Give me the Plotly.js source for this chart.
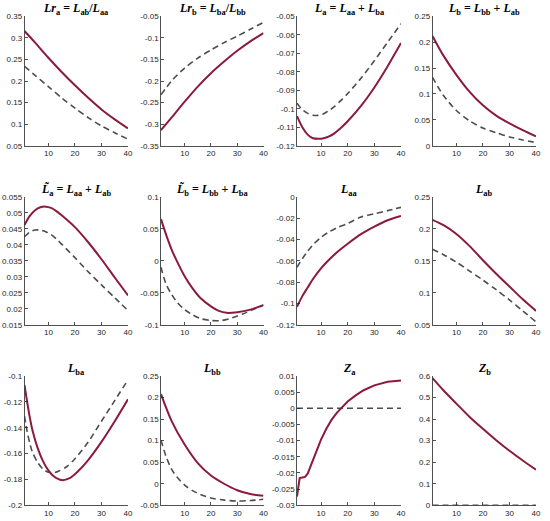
<!DOCTYPE html>
<html>
<head>
<meta charset="utf-8">
<script src="https://cdn.plot.ly/plotly-3.0.1.min.js"></script>
<style>html,body{margin:0;padding:0;background:#fff;}#chart{width:550px;height:521px;}</style>
</head>
<body>
<div id="chart"></div>
<script>
// ---- titles ----
const titles = [
  "<i>Lr</i><sub>a</sub> = <i>L</i><sub>ab</sub>/<i>L</i><sub>aa</sub>",
  "<i>Lr</i><sub>b</sub> = <i>L</i><sub>ba</sub>/<i>L</i><sub>bb</sub>",
  "<i>L</i><sub>a</sub> = <i>L</i><sub>aa</sub> + <i>L</i><sub>ba</sub>",
  "<i>L</i><sub>b</sub> = <i>L</i><sub>bb</sub> + <i>L</i><sub>ab</sub>",
  "<i>L\u0303</i><sub>a</sub> = <i>L</i><sub>aa</sub> + <i>L</i><sub>ab</sub>",
  "<i>L\u0303</i><sub>b</sub> = <i>L</i><sub>bb</sub> + <i>L</i><sub>ba</sub>",
  "<i>L</i><sub>aa</sub>",
  "<i>L</i><sub>ab</sub>",
  "<i>L</i><sub>ba</sub>",
  "<i>L</i><sub>bb</sub>",
  "<i>Z</i><sub>a</sub>",
  "<i>Z</i><sub>b</sub>"
];

// ---- x tick labels ----
const xTicks = [10, 20, 30, 40];

// ---- panel 1: Lra ----
const x1 = [1, 5, 10, 15, 20, 25, 30, 35, 40];
const red1 = [0.316, 0.289, 0.254, 0.221, 0.190, 0.161, 0.134, 0.111, 0.090];
const dash1 = [0.234, 0.213, 0.187, 0.161, 0.137, 0.115, 0.096, 0.080, 0.065];
const yt1 = [0.05, 0.1, 0.15, 0.2, 0.25, 0.3, 0.35];

// ---- panel 2: Lrb ----
const x2 = [1, 5, 10, 15, 20, 25, 30, 35, 40];
const red2 = [-0.314, -0.285, -0.248, -0.213, -0.182, -0.155, -0.130, -0.108, -0.089];
const dash2 = [-0.232, -0.200, -0.170, -0.147, -0.128, -0.111, -0.096, -0.080, -0.064];
const yt2 = [-0.35, -0.3, -0.25, -0.2, -0.15, -0.1, -0.05];

// ---- panel 3: La ----
const x3 = [1, 3, 5, 7, 9, 11, 13, 15, 17, 20, 25, 30, 35, 40];
const red3 = [-0.104, -0.110, -0.114, -0.116, -0.1163, -0.1160, -0.1150, -0.1133, -0.1110, -0.1068, -0.0985, -0.0885, -0.0770, -0.0645];
const dash3 = [-0.097, -0.1005, -0.1025, -0.1035, -0.1036, -0.1027, -0.1010, -0.0988, -0.0962, -0.0918, -0.0835, -0.0740, -0.0640, -0.054];
const yt3 = [-0.12, -0.11, -0.1, -0.09, -0.08, -0.07, -0.06, -0.05];

// ---- panel 4: Lb ----
const x4 = [1, 5, 10, 15, 20, 25, 30, 35, 40];
const red4 = [0.212, 0.175, 0.137, 0.104, 0.078, 0.058, 0.043, 0.030, 0.018];
const dash4 = [0.132, 0.098, 0.068, 0.048, 0.034, 0.025, 0.017, 0.011, 0.006];
const yt4 = [0, 0.05, 0.1, 0.15, 0.2, 0.25];

// ---- panel 5: L~a ----
const x5 = [1, 3, 5, 7, 9, 11, 13, 15, 20, 25, 30, 35, 40];
const red5 = [0.0462, 0.0490, 0.0508, 0.0517, 0.0519, 0.0515, 0.0505, 0.0492, 0.0455, 0.0408, 0.0355, 0.0298, 0.0242];
const dash5 = [0.0425, 0.0440, 0.0446, 0.0446, 0.0441, 0.0432, 0.0418, 0.0402, 0.0360, 0.0316, 0.0275, 0.0235, 0.0195];
const yt5 = [0.015, 0.02, 0.025, 0.03, 0.035, 0.04, 0.045, 0.05, 0.055];

// ---- panel 6: L~b ----
const x6 = [1, 3, 5, 7, 10, 13, 16, 20, 23, 26, 30, 35, 40];
const red6 = [0.065, 0.040, 0.018, 0.000, -0.024, -0.043, -0.058, -0.071, -0.078, -0.081, -0.080, -0.076, -0.069];
const x6d = [1, 2, 3, 5, 7, 10, 13, 16, 20, 24, 28, 32, 36, 40];
const dash6 = [-0.010, -0.025, -0.037, -0.052, -0.064, -0.076, -0.084, -0.090, -0.093, -0.093, -0.089, -0.083, -0.076, -0.069];
const yt6 = [-0.1, -0.05, 0, 0.05, 0.1];

// ---- panel 7: Laa ----
const x7 = [1, 3, 5, 7, 10, 13, 16, 20, 25, 30, 35, 40];
const red7 = [-0.103, -0.093, -0.085, -0.077, -0.067, -0.059, -0.052, -0.044, -0.035, -0.028, -0.022, -0.018];
const dash7 = [-0.066, -0.058, -0.051, -0.045, -0.038, -0.033, -0.029, -0.025, -0.019, -0.016, -0.013, -0.010];
const yt7 = [-0.12, -0.1, -0.08, -0.06, -0.04, -0.02, 0];

// ---- panel 8: Lab ----
const x8 = [1, 5, 10, 15, 20, 25, 30, 35, 40];
const red8 = [0.214, 0.206, 0.192, 0.173, 0.151, 0.130, 0.110, 0.090, 0.072];
const dash8 = [0.168, 0.160, 0.148, 0.134, 0.120, 0.105, 0.089, 0.072, 0.055];
const yt8 = [0.05, 0.1, 0.15, 0.2, 0.25];

// ---- panel 9: Lba ----
const x9 = [1, 2, 3, 4, 6, 8, 10, 12, 15, 18, 21, 25, 30, 35, 40];
const red9 = [-0.107, -0.120, -0.132, -0.142, -0.156, -0.166, -0.173, -0.1775, -0.1805, -0.179, -0.174, -0.165, -0.151, -0.135, -0.118];
const x9d = [1, 2, 3, 4, 6, 8, 10, 12, 14, 17, 20, 25, 30, 35, 40];
const dash9 = [-0.131, -0.143, -0.152, -0.159, -0.167, -0.172, -0.1745, -0.1748, -0.1735, -0.170, -0.164, -0.151, -0.135, -0.119, -0.103];
const yt9 = [-0.2, -0.18, -0.16, -0.14, -0.12, -0.1];

// ---- panel 10: Lbb ----
const x10 = [1, 5, 10, 15, 20, 25, 30, 35, 40];
const red10 = [0.208, 0.146, 0.091, 0.048, 0.019, 0.000, -0.015, -0.024, -0.028];
const x10d = [1, 3, 5, 7, 10, 13, 16, 20, 25, 30, 35, 40];
const dash10 = [0.101, 0.062, 0.034, 0.016, -0.003, -0.016, -0.025, -0.033, -0.038, -0.040, -0.039, -0.036];
const yt10 = [-0.05, 0, 0.05, 0.1, 0.15, 0.2, 0.25];

// ---- panel 11: Za ----
const x11 = [1, 2, 3, 4, 5, 6, 7, 8, 10, 12, 14, 16, 18, 20, 23, 26, 30, 35, 40];
const red11 = [-0.0273, -0.0216, -0.0214, -0.0212, -0.0202, -0.0180, -0.0158, -0.0136, -0.0097, -0.0063, -0.0035, -0.0013, 0.0005, 0.0021, 0.0040, 0.0056, 0.0071, 0.0082, 0.0086];
const x11d = [1, 40];
const dash11 = [0, 0];
const yt11 = [-0.03, -0.025, -0.02, -0.015, -0.01, -0.005, 0, 0.005, 0.01];

// ---- panel 12: Zb ----
const x12 = [1, 5, 10, 15, 20, 25, 30, 35, 40];
const red12 = [0.590, 0.535, 0.472, 0.410, 0.355, 0.302, 0.253, 0.208, 0.165];
const x12d = [1, 40];
const dash12 = [0, 0];
const yt12 = [0, 0.1, 0.2, 0.3, 0.4, 0.5, 0.6];

// ---- assemble ----
const panels = [
  {xr: x1, r: red1, xd: x1, d: dash1, yt: yt1},
  {xr: x2, r: red2, xd: x2, d: dash2, yt: yt2},
  {xr: x3, r: red3, xd: x3, d: dash3, yt: yt3},
  {xr: x4, r: red4, xd: x4, d: dash4, yt: yt4},
  {xr: x5, r: red5, xd: x5, d: dash5, yt: yt5},
  {xr: x6, r: red6, xd: x6d, d: dash6, yt: yt6},
  {xr: x7, r: red7, xd: x7, d: dash7, yt: yt7},
  {xr: x8, r: red8, xd: x8, d: dash8, yt: yt8},
  {xr: x9, r: red9, xd: x9d, d: dash9, yt: yt9},
  {xr: x10, r: red10, xd: x10d, d: dash10, yt: yt10},
  {xr: x11, r: red11, xd: x11d, d: dash11, yt: yt11, lin: true},
  {xr: x12, r: red12, xd: x12d, d: dash12, yt: yt12}
];

const W = 550, H = 521;
const colPx = [[24.5, 128], [161, 263.5], [297, 401], [432.5, 536]];
const rowPx = [[16.3, 145.7], [196.7, 325], [376, 505.3]];
const titleCenterPx = [8.5, 189.5, 369];

const RED = "#8c1a3c";
const GRAY = "#4d4d4d";
const tickFont = {family: "Liberation Sans, Arial, sans-serif", size: 8, color: "#262626"};

const data = [];
const layout = {
  width: W, height: H,
  margin: {l: 0, r: 0, t: 0, b: 0},
  paper_bgcolor: "#fff", plot_bgcolor: "#fff",
  showlegend: false,
  annotations: []
};

panels.forEach((p, i) => {
  const n = i + 1;
  const xa = n === 1 ? "x" : "x" + n;
  const ya = n === 1 ? "y" : "y" + n;
  const row = Math.floor(i / 4), col = i % 4;
  const c = colPx[col], r = rowPx[row];
  const shape = p.lin ? "linear" : "spline";
  data.push({x: p.xd, y: p.d, xaxis: xa, yaxis: ya, type: "scatter", mode: "lines",
    line: {color: GRAY, width: 1.6, dash: "6px,4px", shape: "spline", smoothing: 0.8}, hoverinfo: "skip"});
  data.push({x: p.xr, y: p.r, xaxis: xa, yaxis: ya, type: "scatter", mode: "lines",
    line: {color: RED, width: 2, shape: shape, smoothing: 0.8}, hoverinfo: "skip"});
  const xk = n === 1 ? "xaxis" : "xaxis" + n;
  const yk = n === 1 ? "yaxis" : "yaxis" + n;
  layout[xk] = {
    domain: [c[0] / W, c[1] / W], anchor: ya, range: [1, 40],
    tickvals: xTicks, ticktext: xTicks.map(String),
    ticks: "inside", ticklen: 3, tickwidth: 0.8, tickcolor: "#262626",
    showline: true, linecolor: "#262626", linewidth: 0.8, mirror: false,
    showgrid: false, zeroline: false, tickfont: tickFont, fixedrange: true
  };
  layout[yk] = {
    domain: [1 - r[1] / H, 1 - r[0] / H], anchor: xa,
    range: [p.yt[0], p.yt[p.yt.length - 1]],
    tickvals: p.yt, ticktext: p.yt.map(v => String(v)),
    ticks: "inside", ticklen: 3, tickwidth: 0.8, tickcolor: "#262626",
    showline: true, linecolor: "#262626", linewidth: 0.8, mirror: false,
    showgrid: false, zeroline: false, tickfont: tickFont, fixedrange: true
  };
  layout.annotations.push({
    text: "<b>" + titles[i] + "</b>", xref: "paper", yref: "paper",
    x: (c[0] + c[1]) / 2 / W, y: 1 - titleCenterPx[row] / H, xanchor: "center", yanchor: "middle",
    showarrow: false,
    font: {family: "Liberation Serif, Times New Roman, serif", size: 12, color: "#000"}
  });
});

Plotly.newPlot("chart", data, layout, {displayModeBar: false, staticPlot: true});
</script>
</body>
</html>
